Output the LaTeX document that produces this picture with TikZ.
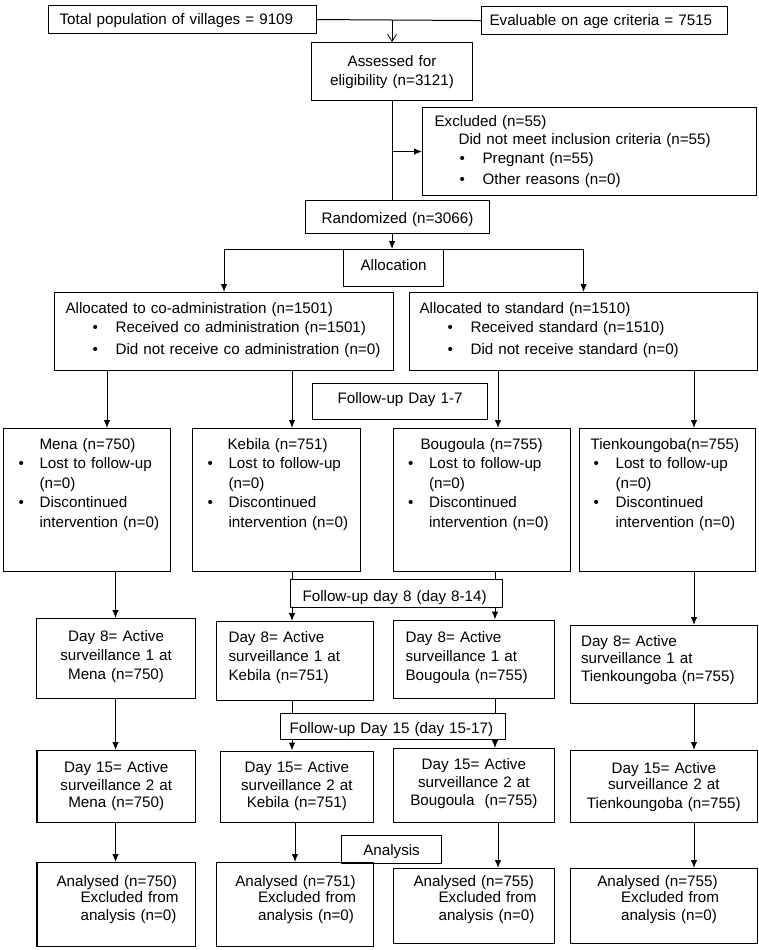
\documentclass[tikz,border=0pt]{standalone}
\usepackage{fontspec}
\setmainfont{Liberation Sans}
\usepackage{tikz}
\usetikzlibrary{arrows.meta,calc}
\newcommand{\bul}[1]{\makebox[#1][l]{\textbullet}}

\begin{document}
\begin{tikzpicture}[x=1pt,y=-1pt,font=\fontsize{15.2}{19.5}\selectfont]
\tikzstyle{box}=[draw,line width=1.1pt,anchor=north west,inner ysep=0pt,align=left]
\tikzstyle{arr}=[-{Latex[length=8pt,width=6.5pt]},line width=1pt]
\tikzstyle{conn}=[line width=1pt]
\useasboundingbox (0,0) rectangle (758,950);

% Enrolment
\node (TOTAL) [box,text width=246pt,inner xsep=11pt,text height=18.5pt,text depth=9.5pt] at (48,5) {Total population of villages = 9109};
\node (EVAL) [box,text width=230pt,inner xsep=8pt,text height=19pt,text depth=9pt] at (481,6) {Evaluable on age criteria = 7515};
\node (ASSESS) [box,align=center,text width=161pt,inner xsep=0pt,text height=23.5pt,text depth=34.5pt] at (311,42) {Assessed for\\eligibility (n=3121)};
\node (EXCL) [box,text width=310pt,inner xsep=12pt,text height=19pt,text depth=69pt] at (422,107) {Excluded (n=55)\\[-2pt]
\hspace*{24pt}Did not meet inclusion criteria (n=55)\\
\hspace*{25pt}\bul{23pt}Pregnant (n=55)\\[1.5pt]
\hspace*{25pt}\bul{23pt}Other reasons (n=0)};
\node (RAND) [box,align=center,text width=184pt,inner xsep=0pt,text height=22.5pt,text depth=10.5pt] at (305,200) {Randomized (n=3066)};

% Allocation
\node (ALLOC) [box,align=center,text width=100pt,inner xsep=0pt,text height=20.5pt,text depth=16.5pt] at (343,249) {Allocation};
\node (COADM) [box,text width=317pt,inner xsep=11pt,text height=20.5pt,text depth=57.5pt] at (54,292) {Allocated to co-administration (n=1501)\\
\hspace*{27pt}\bul{23pt}Received co administration (n=1501)\\[2.5pt]
\hspace*{27pt}\bul{23pt}Did not receive co administration (n=0)};
\node (STD) [box,text width=328pt,inner xsep=10pt,text height=20.5pt,text depth=57.5pt] at (409,292) {Allocated to standard (n=1510)\\
\hspace*{28pt}\bul{23pt}Received standard (n=1510)\\[2.5pt]
\hspace*{28pt}\bul{23pt}Did not receive standard (n=0)};

% Follow-up day 1-7
\node (FUA) [box,align=center,text width=175pt,inner xsep=0pt,text height=19.5pt,text depth=16.5pt] at (312,383) {Follow-up Day 1-7};
\node (MENA) [box,text width=149pt,inner xsep=9pt,text height=20.5pt,text depth=122.5pt] at (3,428) {\hspace*{27pt}Mena (n=750)\\
\hspace*{6pt}\bul{21pt}Lost to follow-up\\
\hspace*{27pt}(n=0)\\
\hspace*{6pt}\bul{21pt}Discontinued\\
\hspace*{27pt}intervention (n=0)};
\node (KEB) [box,text width=150pt,inner xsep=9pt,text height=20.5pt,text depth=122.5pt] at (192,428) {\hspace*{26pt}Kebila (n=751)\\
\hspace*{6pt}\bul{21pt}Lost to follow-up\\
\hspace*{27pt}(n=0)\\
\hspace*{6pt}\bul{21pt}Discontinued\\
\hspace*{27pt}intervention (n=0)};
\node (BOUG) [box,text width=159.5pt,inner xsep=9pt,text height=20.5pt,text depth=122.5pt] at (392.5,428) {\hspace*{18.5pt}Bougoula (n=755)\\
\hspace*{6pt}\bul{21pt}Lost to follow-up\\
\hspace*{27pt}(n=0)\\
\hspace*{6pt}\bul{21pt}Discontinued\\
\hspace*{27pt}intervention (n=0)};
\node (TIEN) [box,text width=158pt,inner xsep=9pt,text height=20.5pt,text depth=122.5pt] at (579,428) {\hspace*{2pt}Tienkoungoba(n=755)\\
\hspace*{5pt}\bul{22pt}Lost to follow-up\\
\hspace*{27pt}(n=0)\\
\hspace*{5pt}\bul{22pt}Discontinued\\
\hspace*{27pt}intervention (n=0)};

% Follow-up day 8
\node (FUB) [box,text width=188pt,inner xsep=12pt,text height=21.5pt,text depth=6.5pt] at (290,579) {Follow-up day 8 (day 8-14)};
\node (DAMENA) [box,align=center,text width=159pt,inner xsep=0pt,text height=22.5pt,text depth=57.5pt] at (36,618) {Day 8= Active\\[-0.5pt]surveillance 1 at\\[-0.5pt]Mena (n=750)};
\node (DAKEB) [box,text width=133pt,inner xsep=12pt,text height=21pt,text depth=58pt] at (216,621) {Day 8= Active\\[-0.5pt]surveillance 1 at\\[-0.5pt]Kebila (n=751)};
\node (DABOUG) [box,text width=136.5pt,inner xsep=12.5pt,text height=22.5pt,text depth=56pt] at (392.5,619.5) {Day 8= Active\\[-0.5pt]surveillance 1 at\\[-0.5pt]Bougoula (n=755)};
\node (DATIEN) [box,text width=165.5pt,inner xsep=11pt,text height=20.5pt,text depth=57.5pt] at (569.5,625) {Day 8= Active\\[-2pt]surveillance 1 at\\[-2pt]Tienkoungoba (n=755)};

% Follow-up day 15
\node (FUC) [box,text width=207pt,inner xsep=9pt,text height=19.5pt,text depth=6.5pt] at (280,713) {Follow-up Day 15 (day 15-17)};
\node (DBMENA) [box,align=center,text width=158.6pt,inner xsep=0pt,text height=22pt,text depth=50pt] at (36.4,750) {Day 15= Active\\[-2pt]surveillance 2 at\\[-2pt]Mena (n=750)};
\node (DBKEB) [box,align=center,text width=153.4pt,inner xsep=0pt,text height=21.5pt,text depth=50pt] at (219.6,750.5) {Day 15= Active\\[-2pt]surveillance 2 at\\[-2pt]Kebila (n=751)};
\node (DBBOUG) [box,align=center,text width=161.4pt,inner xsep=0pt,text height=20.5pt,text depth=53.5pt] at (392.6,748) {Day 15= Active\\[-1.5pt]surveillance 2 at\\[-1.5pt]Bougoula\ \ (n=755)};
\node (DBTIEN) [box,align=center,text width=187.5pt,inner xsep=0pt,text height=22.5pt,text depth=49.5pt] at (569.5,750) {Day 15= Active\\[-3pt]surveillance 2 at\\[-0.5pt]Tienkoungoba (n=755)};

% Analysis
\node (ANAL) [box,align=center,text width=100pt,inner xsep=0pt,text height=19.5pt,text depth=8.5pt] at (341,835) {Analysis};
\node (ANMENA) [box,text width=142.6pt,inner xsep=8pt,text height=23.5pt,text depth=60.5pt] at (36.4,862) {\hspace*{11.6pt}Analysed (n=750)\\[-3.5pt]
\hspace*{35.6pt}Excluded from\\[-1.5pt]
\hspace*{35.6pt}analysis (n=0)};
\node (ANKEB) [box,text width=141pt,inner xsep=8pt,text height=23.5pt,text depth=60.5pt] at (216,862) {\hspace*{10.7pt}Analysed (n=751)\\[-3.5pt]
\hspace*{33.5pt}Excluded from\\[-1.5pt]
\hspace*{33.5pt}analysis (n=0)};
\node (ANBOUG) [box,text width=145.4pt,inner xsep=8pt,text height=17.5pt,text depth=57.5pt] at (392.6,868) {\hspace*{12.4pt}Analysed (n=755)\\[-3.5pt]
\hspace*{37.4pt}Excluded from\\[-1.5pt]
\hspace*{37.4pt}analysis (n=0)};
\node (ANTIEN) [box,text width=171.5pt,inner xsep=8pt,text height=17.5pt,text depth=57.5pt] at (569.5,868) {\hspace*{19.2pt}Analysed (n=755)\\[-3.5pt]
\hspace*{43pt}Excluded from\\[-1.5pt]
\hspace*{43pt}analysis (n=0)};

% columns of the arrows
\coordinate (COLA) at (115.5,0);
\coordinate (COLB) at (292,0);
\coordinate (COLC) at (495,0);
\coordinate (COLD) at (694,0);

% Connectors at the top
\draw[conn] (TOTAL.east) -- (EVAL.west);
\coordinate (JOIN) at (TOTAL.east -| ASSESS.north);
\draw[-{Straight Barb[length=7pt,width=9pt]},line width=0.8pt] (JOIN) -- (ASSESS.north);
\draw[conn] (ASSESS.south) -- (ASSESS.south |- RAND.north);
\coordinate (EXCLJ) at (ASSESS.south |- EXCL.west);
\draw[arr] (EXCLJ) -- (EXCL.west);
\draw[arr] (ASSESS.south |- RAND.south) -- (ASSESS.south |- ALLOC.north);
\draw[arr] (ALLOC.north) -| (COADM.north);
\draw[arr] (ALLOC.north) -| (STD.north);

% Allocation to villages
\draw[arr] ([xshift=53pt]COADM.south west) -- ([xshift=53pt]COADM.south west |- MENA.north);
\draw[arr] (COLB |- COADM.south) -- (COLB |- KEB.north);
\draw[arr] ([xshift=89pt]STD.south west) -- ([xshift=89pt]STD.south west |- BOUG.north);
\draw[arr] (COLD |- STD.south) -- (COLD |- TIEN.north);

% Villages to day 8
\draw[arr] (COLA |- MENA.south) -- (COLA |- DAMENA.north);
\draw[conn] (COLB |- KEB.south) -- (COLB |- FUB.north);
\draw[arr] (COLB |- FUB.south) -- (COLB |- DAKEB.north);
\draw[conn] (COLC |- BOUG.south) -- (COLC |- FUB.north);
\draw[arr] (COLC |- FUB.south) -- (COLC |- DABOUG.north);
\draw[arr] (COLD |- TIEN.south) -- (COLD |- DATIEN.north);

% Day 8 to day 15
\draw[arr] (COLA |- DAMENA.south) -- (COLA |- DBMENA.north);
\draw[conn] (COLB |- DAKEB.south) -- (COLB |- FUC.north);
\draw[arr] (COLB |- FUC.south) -- (COLB |- DBKEB.north);
\draw[conn] (COLC |- DABOUG.south) -- (COLC |- FUC.north);
\draw[arr] (COLC |- FUC.south) -- (COLC |- DBBOUG.north);
\draw[arr] (COLD |- DATIEN.south) -- (COLD |- DBTIEN.north);

% Day 15 to analysis
\draw[arr] (COLA |- DBMENA.south) -- (COLA |- ANMENA.north);
\draw[arr] ([xshift=3pt]COLB |- DBKEB.south) -- ([xshift=3pt]COLB |- ANKEB.north);
\draw[arr] ([xshift=3pt]COLC |- DBBOUG.south) -- ([xshift=3pt]COLC |- ANBOUG.north);
\draw[arr] (COLD |- DBTIEN.south) -- (COLD |- ANTIEN.north);

\end{tikzpicture}
\end{document}
